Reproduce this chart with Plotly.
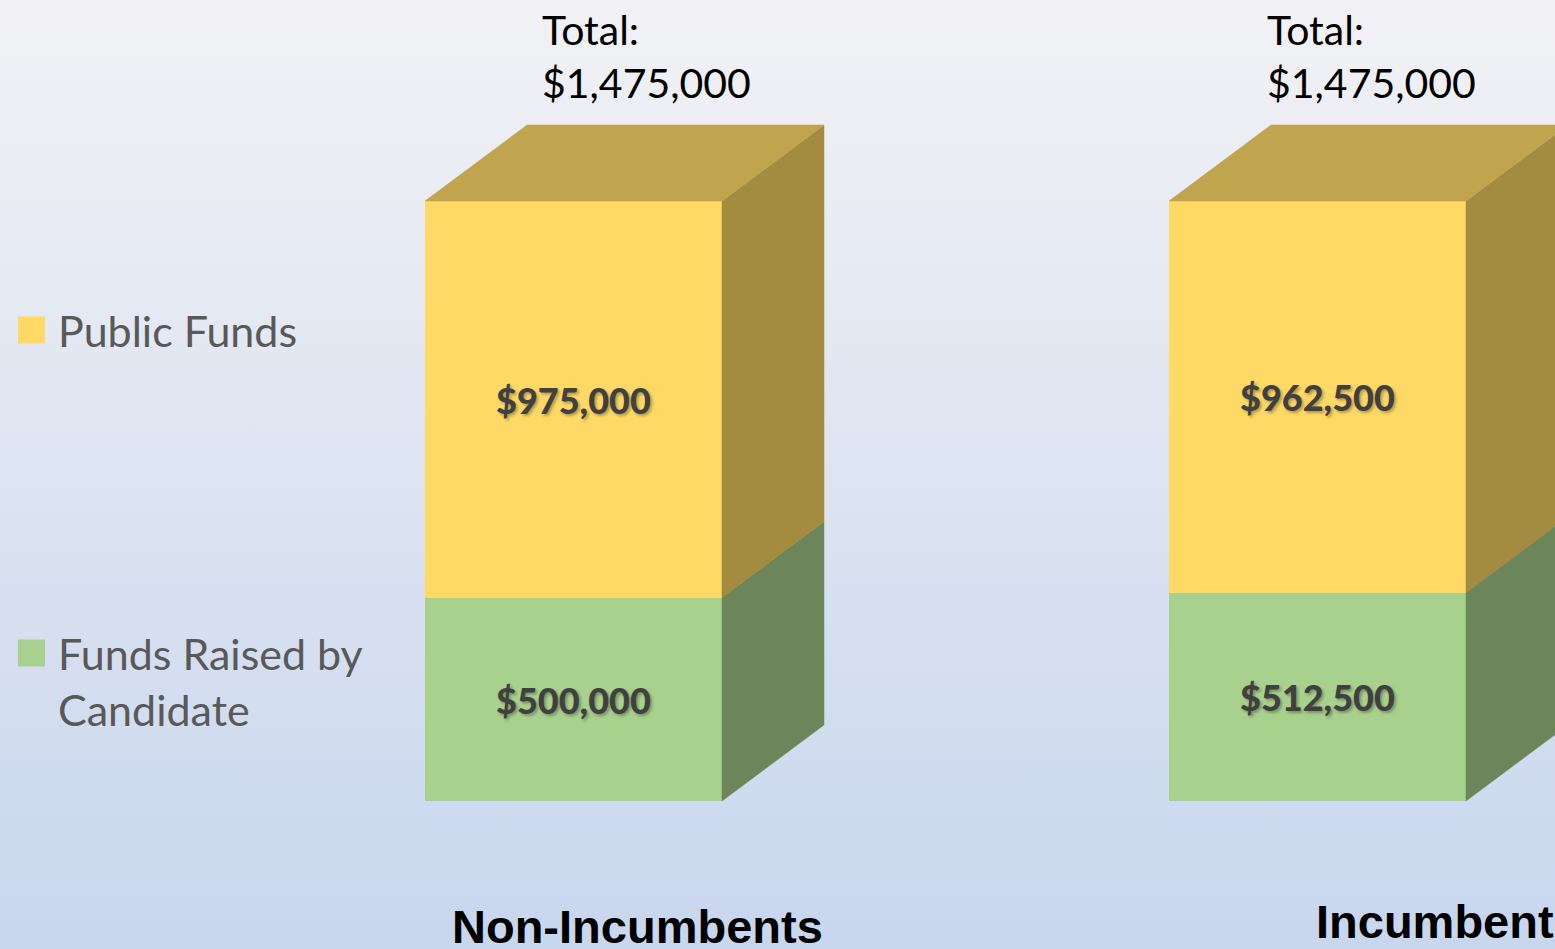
import plotly.graph_objects as go

# ---- data ----
categories = ["Non-Incumbents", "Incumbents"]
raised_by_candidate = [500000, 512500]
public_funds = [975000, 962500]
totals = [a + b for a, b in zip(raised_by_candidate, public_funds)]
series_names = ["Public Funds", "Funds Raised by<br>Candidate"]

# ---- styling / geometry (layout only) ----
W, H = 1555, 949
bar_px_center0 = 573.5
px_per_cat = 744.0
y0_px = 801.0
px_per_unit = 600.0 / 1475000.0

bar_w = 297.0 / px_per_cat
dx = 102.0 / px_per_cat
dy = 76.0 / px_per_unit

x_range = [(0 - bar_px_center0) / px_per_cat, (W - bar_px_center0) / px_per_cat]
y_range = [(y0_px - H) / px_per_unit, y0_px / px_per_unit]

green_front, green_side = "#A9D18E", "#6C8659"
yellow_front, yellow_top, yellow_side = "#FFD966", "#C1A44E", "#A38B40"

xs = list(range(len(categories)))

fig = go.Figure()

# 3D faces (side + top) built from data values
for i, (g, p) in enumerate(zip(raised_by_candidate, public_funds)):
    t = g + p
    xl, xr = i - bar_w / 2, i + bar_w / 2
    faces = [
        ([xr, xr + dx, xr + dx, xr, xr], [0, dy, g + dy, g, 0], green_side),
        ([xr, xr + dx, xr + dx, xr, xr], [g, g + dy, t + dy, t, g], yellow_side),
        ([xl, xl + dx, xr + dx, xr, xl], [t, t + dy, t + dy, t, t], yellow_top),
    ]
    for fx, fy, col in faces:
        fig.add_trace(go.Scatter(x=fx, y=fy, mode="lines", fill="toself",
                                 fillcolor=col, line=dict(color=col, width=0.5),
                                 hoverinfo="skip", showlegend=False))

label_font = dict(family="Lato", size=36, color="#404040", weight=900,
                  shadow="2px 2px 3px rgba(0,0,0,0.3)")

fig.add_trace(go.Bar(
    x=xs, y=raised_by_candidate, width=bar_w, name="Funds Raised by Candidate",
    marker=dict(color=green_front, line=dict(width=0)),
    text=[f"${v:,.0f}" for v in raised_by_candidate], textposition="inside",
    insidetextanchor="middle", textfont=label_font, textangle=0,
    hoverinfo="skip", showlegend=False))
fig.add_trace(go.Bar(
    x=xs, y=public_funds, width=bar_w, name="Public Funds",
    marker=dict(color=yellow_front, line=dict(width=0)),
    text=[f"${v:,.0f}" for v in public_funds], textposition="inside",
    insidetextanchor="middle", textfont=label_font, textangle=0,
    hoverinfo="skip", showlegend=False))

annotations = []
# Total labels
total_offsets = [-33.5, -52.5]
for i, t in enumerate(totals):
    annotations.append(dict(
        x=i, y=t + dy, xref="x", yref="y", xanchor="left", yanchor="bottom",
        xshift=total_offsets[i], yshift=16, showarrow=False, align="left",
        text=f"Total:<br>${t:,.0f}",
        font=dict(family="Lato", size=41, color="#000000")))

# Category labels
cat_pos = [(637.5, 926), (1448, 921)]
for (cx, cy), c in zip(cat_pos, categories):
    annotations.append(dict(
        x=cx / W, y=1 - cy / H, xref="paper", yref="paper",
        xanchor="center", yanchor="middle", showarrow=False, text=c,
        font=dict(family="Liberation Sans", size=47, color="#000000", weight="bold")))

# Legend (manual)
legend_items = [(series_names[0], yellow_front, 330, 330),
                (series_names[1], green_front, 653, 681)]
shapes = []
for name, col, sq_y, txt_y in legend_items:
    shapes.append(dict(type="rect", xref="paper", yref="paper",
                       x0=18 / W, x1=45 / W, y0=1 - (sq_y + 13.5) / H, y1=1 - (sq_y - 13.5) / H,
                       fillcolor=col, line=dict(width=0), layer="above"))
    annotations.append(dict(
        x=56 / W, y=1 - txt_y / H, xref="paper", yref="paper",
        xanchor="left", yanchor="middle", showarrow=False, align="left",
        text=name, font=dict(family="Lato", size=43, color="#595959")))

bg_svg = ("data:image/svg+xml;utf8,"
          "<svg xmlns='http://www.w3.org/2000/svg' width='10' height='100' preserveAspectRatio='none'>"
          "<defs><linearGradient id='g' x1='0' y1='0' x2='0' y2='1'>"
          "<stop offset='0' stop-color='%23F2F2F5'/><stop offset='1' stop-color='%23C8D6EE'/>"
          "</linearGradient></defs><rect width='10' height='100' fill='url(%23g)'/></svg>")

fig.update_layout(
    width=W, height=H, barmode="stack", bargap=0,
    margin=dict(l=0, r=0, t=0, b=0),
    paper_bgcolor="#DDE4F1", plot_bgcolor="rgba(0,0,0,0)",
    showlegend=False,
    xaxis=dict(range=x_range, visible=False, fixedrange=True),
    yaxis=dict(range=y_range, visible=False, fixedrange=True),
    annotations=annotations, shapes=shapes,
    images=[dict(source=bg_svg, xref="paper", yref="paper", x=0, y=1,
                 sizex=1, sizey=1, sizing="stretch", layer="below",
                 xanchor="left", yanchor="top")],
)

fig.write_html("out.html", config={"displayModeBar": False},
               post_script="document.body.style.margin='0';document.body.style.overflow='hidden';")
